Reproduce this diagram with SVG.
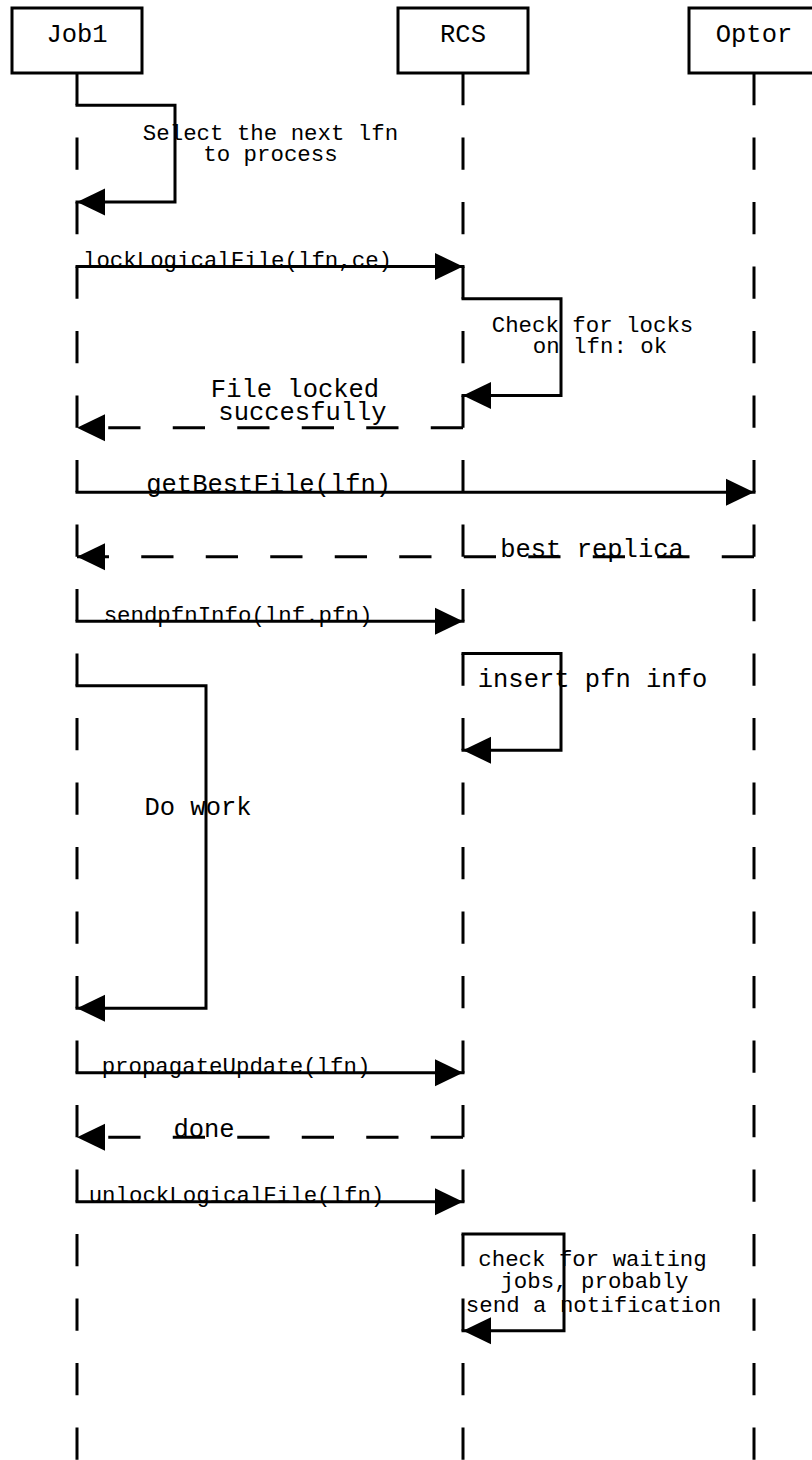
<svg xmlns="http://www.w3.org/2000/svg" width="812" height="1460" viewBox="0 0 812 1460">
<style>
.box{fill:#fff;stroke:#000;stroke-width:3}
.life{stroke:#000;stroke-width:3;stroke-dasharray:32.25 32.25;fill:none}
.msg{stroke:#000;stroke-width:3;fill:none;stroke-linejoin:miter;stroke-linecap:square;marker-end:url(#ah)}
.ret{stroke:#000;stroke-width:3;fill:none;stroke-dasharray:32.25 32.25;marker-end:url(#ah)}
.t{font-family:"Liberation Mono","Courier New",monospace;fill:#000;text-anchor:middle}
.s{font-size:22.4px}
.l{font-size:25.5px}
</style>
<defs>
<marker id="ah" markerUnits="userSpaceOnUse" markerWidth="28" markerHeight="28" viewBox="0 0 26 26" refX="26" refY="13" orient="auto">
<path d="M0,0.5 L26,13 L0,25.5 Z" fill="#000"/>
</marker>
</defs>
<g id="lifelines">
<line class="life" x1="77" y1="73" x2="77" y2="1460"/>
<line class="life" x1="463" y1="73" x2="463" y2="1460"/>
<line class="life" x1="754" y1="73" x2="754" y2="1460"/>
</g>
<g id="node-job1"><rect class="box" x="12" y="8" width="130" height="65"/><text class="t l" x="77" y="42">Job1</text></g>
<g id="node-rcs"><rect class="box" x="398" y="8" width="130" height="65"/><text class="t l" x="463" y="42">RCS</text></g>
<g id="node-optor"><rect class="box" x="689" y="8" width="130" height="65"/><text class="t l" x="754" y="42">Optor</text></g>
<g id="connectors">
<polyline class="msg" points="77,105.25 175,105.25 175,202 77,202"/>
<line class="msg" x1="77" y1="266.5" x2="463" y2="266.5"/>
<polyline class="msg" points="463,298.75 561,298.75 561,395.5 463,395.5"/>
<line class="ret" x1="463" y1="427.75" x2="77" y2="427.75"/>
<line class="msg" x1="77" y1="492.25" x2="754" y2="492.25"/>
<line class="ret" x1="754" y1="556.75" x2="77" y2="556.75"/>
<line class="msg" x1="77" y1="621.25" x2="463" y2="621.25"/>
<polyline class="msg" points="463,653.5 561,653.5 561,750.25 463,750.25"/>
<polyline class="msg" points="77,685.75 206,685.75 206,1008.25 77,1008.25"/>
<line class="msg" x1="77" y1="1072.75" x2="463" y2="1072.75"/>
<line class="ret" x1="463" y1="1137.25" x2="77" y2="1137.25"/>
<line class="msg" x1="77" y1="1201.75" x2="463" y2="1201.75"/>
<polyline class="msg" points="463,1234 564,1234 564,1330.75 463,1330.75"/>
</g>
<g id="labels">
<text class="t s" x="270.5" y="139.5">Select the next lfn</text>
<text class="t s" x="270.5" y="161">to process</text>
<text class="t s" x="237.5" y="267">lockLogicalFile(lfn,ce)</text>
<text class="t s" x="592.5" y="332">Check for locks</text>
<text class="t s" x="600" y="353">on lfn: ok</text>
<text class="t l" x="295" y="397">File locked</text>
<text class="t l" x="302.5" y="420">succesfully</text>
<text class="t l" x="268.7" y="492">getBestFile(lfn)</text>
<text class="t l" x="592" y="557">best replica</text>
<text class="t s" x="238" y="621.5">sendpfnInfo(lnf.pfn)</text>
<text class="t l" x="592.5" y="687">insert pfn info</text>
<text class="t l" x="198" y="815">Do work</text>
<text class="t s" x="236" y="1073">propagateUpdate(lfn)</text>
<text class="t l" x="204" y="1137">done</text>
<text class="t s" x="236.5" y="1202">unlockLogicalFile(lfn)</text>
<text class="t s" x="592.5" y="1266">check for waiting</text>
<text class="t s" x="594.5" y="1288">jobs, probably</text>
<text class="t s" x="593.5" y="1312">send a notification</text>
</g>
</svg>
